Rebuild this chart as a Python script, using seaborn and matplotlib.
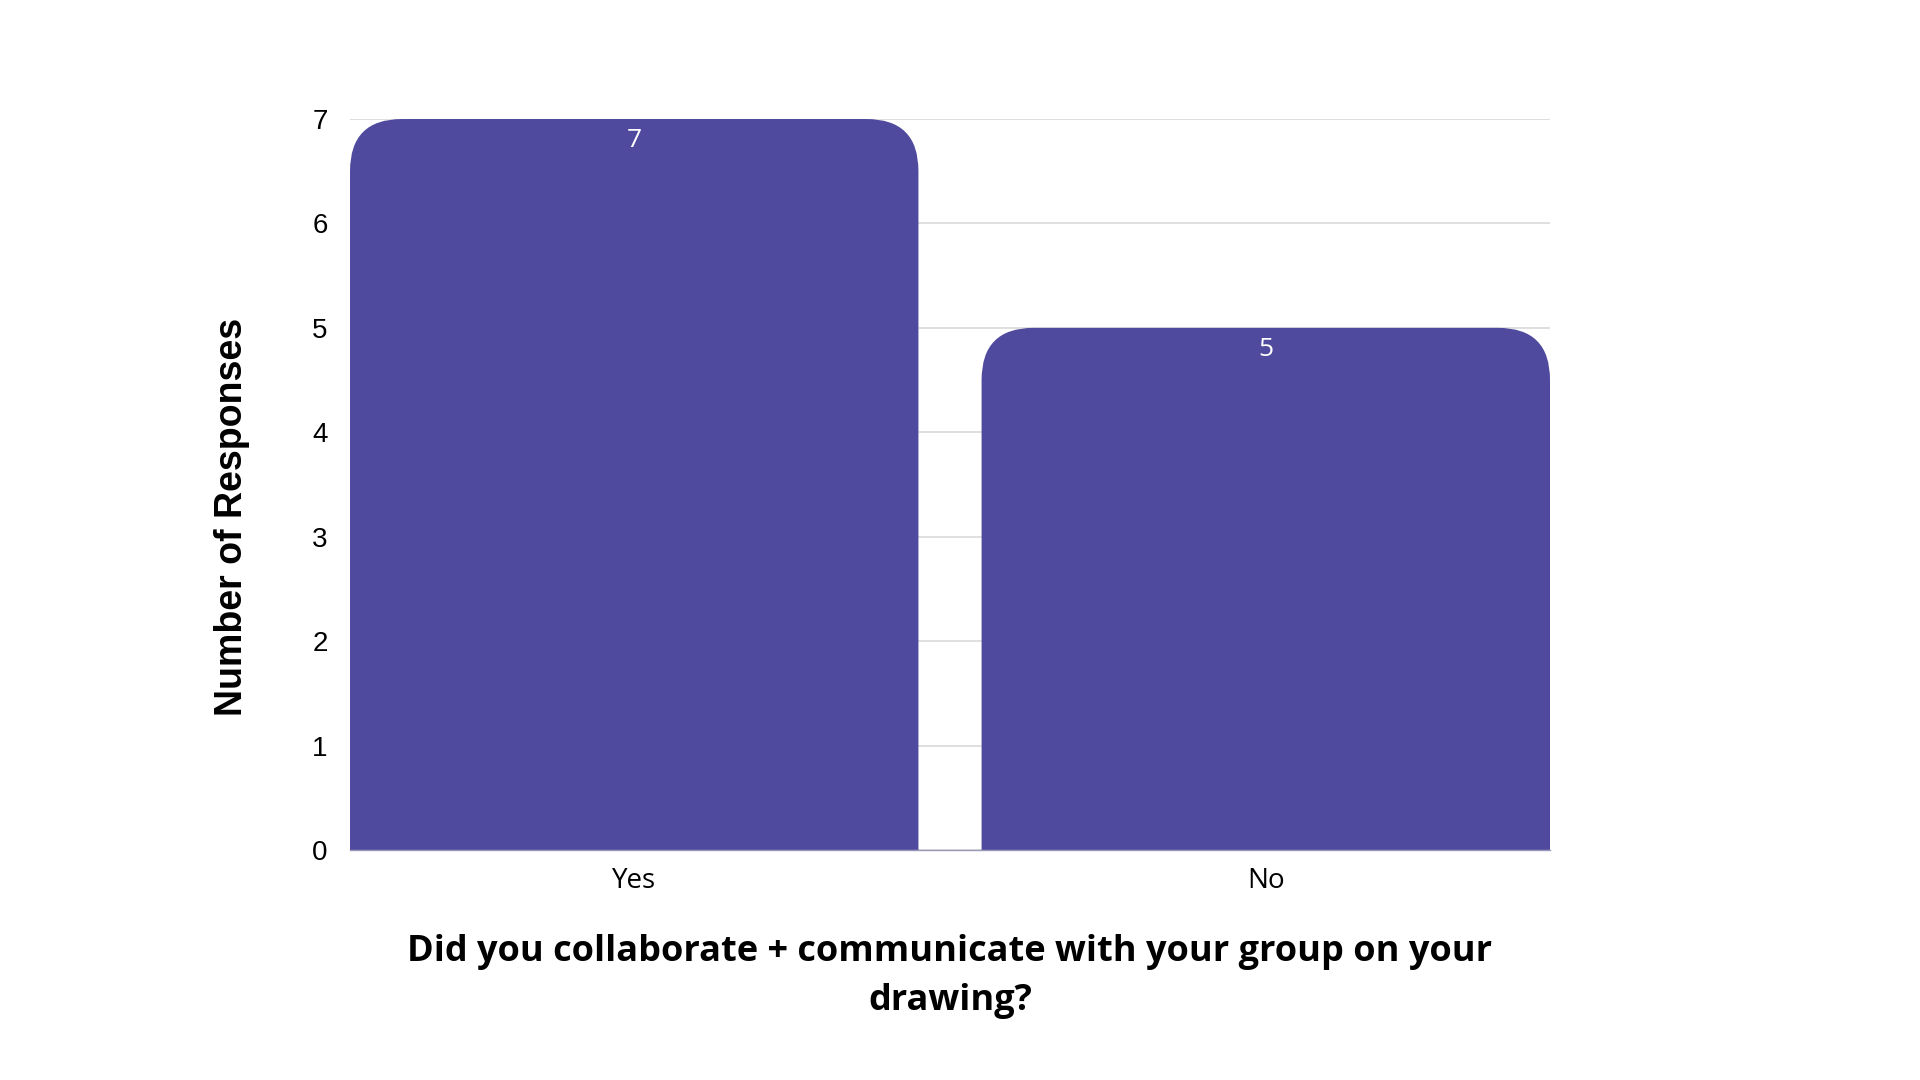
import matplotlib
matplotlib.use("Agg")
import matplotlib.pyplot as plt
import seaborn as sns
import pandas as pd
from matplotlib.path import Path
from matplotlib.patches import PathPatch

# data
answers = ["Yes", "No"]
responses = [7, 5]
bar_color = "#4F4A9E"

df = pd.DataFrame({"answer": answers, "responses": responses})

sns.set_style("white")
plt.rcParams["font.family"] = ["Open Sans", "DejaVu Sans"]
plt.rcParams["text.color"] = "black"
plt.rcParams["axes.labelcolor"] = "black"
plt.rcParams["xtick.color"] = "black"
plt.rcParams["ytick.color"] = "black"

fig = plt.figure(figsize=(19.2, 10.8), dpi=100)
ax = fig.add_axes([0.1823, 0.2130, 0.625, 0.6768])

sns.barplot(data=df, x="answer", y="responses", color=bar_color,
            width=0.9, saturation=1, ax=ax, zorder=2)

ax.set_xlim(-0.45, 1.45)
ax.set_ylim(0, 7)

# swap the plain bars for bars with rounded top corners
px_per_x = 1200 / 1.9
px_per_y = 731 / 7
radius_px = 52
rx = radius_px / px_per_x
ry = radius_px / px_per_y
for bar in list(ax.patches):
    x0, w, h = bar.get_x(), bar.get_width(), bar.get_height()
    bar.set_visible(False)
    verts = [(x0, 0), (x0, h - ry), (x0, h), (x0 + rx, h),
             (x0 + w - rx, h), (x0 + w, h), (x0 + w, h - ry),
             (x0 + w, 0), (x0, 0)]
    codes = [Path.MOVETO, Path.LINETO, Path.CURVE3, Path.CURVE3,
             Path.LINETO, Path.CURVE3, Path.CURVE3,
             Path.LINETO, Path.CLOSEPOLY]
    ax.add_patch(PathPatch(Path(verts, codes), facecolor=bar_color,
                           edgecolor="none", zorder=2))
    ax.text(x0 + w / 2, h - 0.21, f"{h:g}", ha="center", va="center",
            color="white", fontsize=19, zorder=3)

ax.yaxis.grid(True, color="#d9d9d9", linewidth=1.2, zorder=0)
ax.set_axisbelow(True)
for side in ["top", "right", "left"]:
    ax.spines[side].set_visible(False)
ax.spines["bottom"].set_color("#9a98b8")
ax.spines["bottom"].set_linewidth(1)

ax.tick_params(axis="both", length=0)
ax.tick_params(axis="y", pad=16)
ax.tick_params(axis="x", pad=12)
for lab in ax.get_yticklabels():
    lab.set_fontfamily(["Liberation Sans", "DejaVu Sans"])
    lab.set_fontsize(20)
for lab in ax.get_xticklabels():
    lab.set_fontsize(20)

ax.set_ylabel("Number of Responses", fontsize=27, fontweight="bold",
              family=["Liberation Sans", "DejaVu Sans"])
ax.yaxis.set_label_coords(-0.083, 0.455)
ax.set_xlabel("Did you collaborate + communicate with your group on your\ndrawing?",
              fontsize=26, fontweight="bold", labelpad=28, linespacing=1.5)

fig.savefig("out.png", dpi=100, facecolor="white")
